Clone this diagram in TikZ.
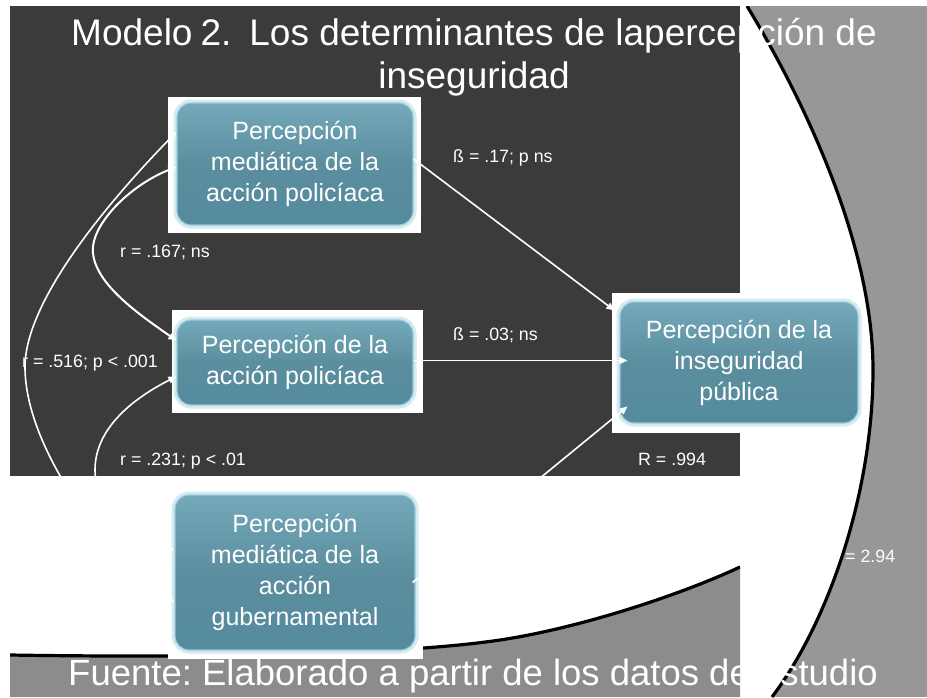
\documentclass[tikz,border=0pt]{standalone}
\usepackage{fontspec}
\setmainfont{Liberation Sans}
\usetikzlibrary{arrows.meta,calc}
\definecolor{darkbg}{HTML}{3B3B3B}
\definecolor{grayr}{HTML}{979797}
\definecolor{grayb}{HTML}{8C8C8C}
\definecolor{btop}{HTML}{A8D3E0}
\definecolor{bhi}{HTML}{7BB1C2}
\definecolor{bmid}{HTML}{5B8E9F}
\definecolor{bdark}{HTML}{4F899B}
\definecolor{bbot}{HTML}{68BCD2}
\definecolor{glow}{HTML}{D5EBF2}
\definecolor{bedge}{HTML}{9BCBD9}
\pgfdeclareverticalshading{boxshade}{100bp}{color(0bp)=(bbot); color(8bp)=(bdark); color(50bp)=(bmid); color(82bp)=(bhi); color(100bp)=(btop)}
\frenchspacing
\tikzset{
  boxnode/.style={rounded corners=14pt, shading=boxshade, draw=bedge, line width=1.2pt,
    preaction={draw=glow, line width=7pt}, text=white, align=center, inner sep=0pt,
    font=\fontsize{25}{31}\selectfont},
  lbl/.style={text=white, font=\fontsize{17.8}{20}\selectfont, anchor=mid west, inner sep=0pt},
  conn/.style={white, line width=1.6pt},
  tip/.style={-{Triangle[length=8pt,width=7pt]}},
  tips/.style={{Triangle[length=8pt,width=7pt]}-{Triangle[length=8pt,width=7pt]}},
  bigtext/.style={text=white, inner sep=0pt, font=\fontsize{36.5}{43}\selectfont},
  titletext/.style={text=white, inner sep=0pt, font=\fontsize{37}{43}\selectfont}
}
\begin{document}
\begin{tikzpicture}[x=1pt,y=-1pt]
\useasboundingbox (0,0) rectangle (927,697);
\fill[white] (0,0) rectangle (927,697);
% right piece
\begin{scope}
  \clip (740,6) rectangle (927,697);
  \fill[grayr] (740,6) rectangle (927,697);
  \fill[white] (740,6) -- (747,6) .. controls (810,110) and (873,250) .. (873,370) .. controls (873,490) and (830,620) .. (772,697) -- (740,697) -- cycle;
  \draw[black, line width=3.2pt] (747,6) .. controls (810,110) and (873,250) .. (873,370) .. controls (873,490) and (830,620) .. (772,697);
\end{scope}
% bottom-left piece
\begin{scope}
  \clip (10,476) rectangle (740,697);
  \fill[grayb] (10,655) .. controls (200,658) and (400,655) .. (500,640) .. controls (580,628) and (680,595) .. (740,567) -- (740,697) -- (10,697) -- cycle;
  \draw[black, line width=3.2pt] (10,655) .. controls (200,658) and (400,655) .. (500,640) .. controls (580,628) and (680,595) .. (740,567);
\end{scope}
% dark panel
\fill[darkbg] (10,6) rectangle (740,476);
% white backgrounds of the box pictures
\fill[white] (168,97) rectangle (421,233);
\fill[white] (172,310) rectangle (423,413);
\fill[white] (612,293) rectangle (740,433);
\fill[white] (168,480) rectangle (423,659);
% boxes
\node[boxnode, minimum width=236pt, minimum height=122pt] (b1) at (295,164) {Percepción\\mediática de la\\acción policíaca};
\node[boxnode, minimum width=236pt, minimum height=85pt] (b2) at (295,362.5) {Percepción de la\\acción policíaca};
\node[boxnode, minimum width=238pt, minimum height=121pt] (b3) at (739,362.5) {Percepción de la\\inseguridad\\pública};
\node[boxnode, minimum width=240pt, minimum height=155pt] (b4) at (295,572.5) {Percepción\\mediática de la\\acción\\gubernamental};
% straight paths
\draw[conn,tip] ([yshift=5pt]b1.east) -- ([xshift=-5pt,yshift=-9pt]b3.north west);
\draw[conn,tip] ([yshift=2pt]b2.east) -- ([xshift=8pt,yshift=2pt]b3.west);
\draw[conn,tip] ([xshift=-3pt,yshift=-10pt]b4.east) -- ([xshift=8pt,yshift=-44pt]b3.west);
% correlations
\draw[conn,tips] ([yshift=32pt]b1.west) .. controls (110,200) and (25,300) .. (25,367) .. controls (25,450) and (110,560) .. ([yshift=-30pt]b4.west);
\draw[conn,line width=2pt,tips] ([yshift=-3pt]b1.west) .. controls (130,185) and (90,225) .. (93,253) .. controls (96,285) and (140,315) .. ([yshift=22pt]b2.west);
\draw[conn,tips] ([yshift=-14pt]b2.west) .. controls (130,400) and (95,430) .. (95,470) .. controls (95,510) and (140,535) .. ([yshift=22pt]b4.west);
% labels
\node[lbl] (l1) at (120,255) {r = .167; ns};
\node[lbl] (l2) at (22,365) {r = .516; p < .001};
\node[lbl] (l3) at (120,463) {r = .231; p < .01};
\node[lbl] (l4) at (453,160) {ß = .17; p ns};
\node[lbl] (l5) at (453,338) {ß = .03; ns};
\node[lbl] (l6) at (638,463) {R = .994};
\node[lbl] (l7) at (845,560) {= 2.94};
% title and source
\node[titletext, anchor=base] (t1) at (474,45) {Modelo\hspace{8pt}2.\hspace{18pt}Los determinantes de lapercepción de};
\node[titletext, anchor=base] (t2) at (474,88) {inseguridad};
\node[bigtext, anchor=base west] (src) at (68,685) {Fuente: Elaborado a partir de los datos de estudio};
\end{tikzpicture}
\end{document}
